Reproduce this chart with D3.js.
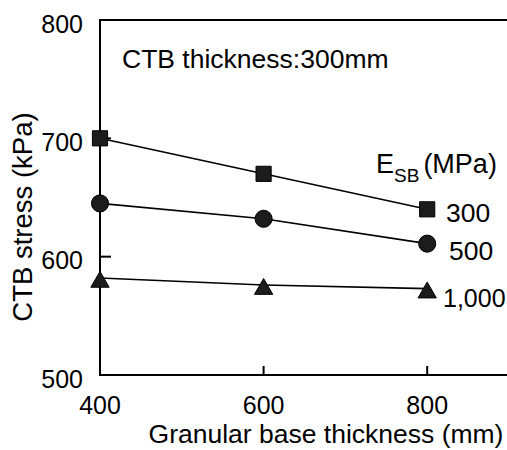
<!DOCTYPE html>
<html>
<head>
<meta charset="utf-8">
<script src="https://cdn.jsdelivr.net/npm/d3@7"></script>
<style>
  body { margin: 0; background: #fff; }
  text { font-family: "Liberation Sans", Arial, sans-serif; fill: #000; }
</style>
</head>
<body>
<div id="chart"></div>
<script>
const thickness = [400, 600, 800];
const stress300 = [700, 670, 640];
const stress500 = [645, 632, 611];
const stress1000 = [582, 576, 573];
const seriesLabels = ["300", "500", "1,000"];
const xTicks = [400, 600, 800];
const yTicks = [500, 600, 700, 800];

const width = 507, height = 450;
const margin = {top: 20, right: 0, bottom: 75, left: 100};

const svg = d3.select("#chart")
    .append("svg")
    .attr("width", width)
    .attr("height", height);

const x = d3.scaleLinear()
    .domain([400, 900])
    .range([margin.left, margin.left + 409]);

const y = d3.scaleLinear()
    .domain([500, 800])
    .range([height - margin.bottom, margin.top]);

// frame: left + top + bottom
svg.append("path")
    .attr("d", `M${x(900)},${y(800)}H${x(400)}V${y(500)}H${x(900)}`)
    .attr("fill", "none")
    .attr("stroke", "#000")
    .attr("stroke-width", 2);

// inward ticks
svg.selectAll(".xt")
    .data(xTicks.slice(1))
    .enter().append("line")
    .attr("x1", d => x(d)).attr("x2", d => x(d))
    .attr("y1", y(500)).attr("y2", y(500) - 9)
    .attr("stroke", "#000").attr("stroke-width", 2);

svg.selectAll(".yt")
    .data(yTicks.slice(1, 3))
    .enter().append("line")
    .attr("x1", x(400)).attr("x2", x(400) + 11)
    .attr("y1", d => y(d)).attr("y2", d => y(d))
    .attr("stroke", "#000").attr("stroke-width", 2);

svg.selectAll(".xl")
    .data(xTicks)
    .enter().append("text")
    .attr("x", d => x(d))
    .attr("y", 413.5)
    .attr("text-anchor", "middle")
    .style("font-size", "25px")
    .text(d => d);

svg.selectAll(".yl")
    .data(yTicks)
    .enter().append("text")
    .attr("x", x(400) - 17)
    .attr("y", d => y(d) + 12.5)
    .attr("text-anchor", "end")
    .style("font-size", "25px")
    .text(d => d);

svg.append("text")
    .attr("x", 326)
    .attr("y", 443)
    .attr("text-anchor", "middle")
    .style("font-size", "26.5px")
    .text("Granular base thickness (mm)");

svg.append("text")
    .attr("transform", "translate(32,217) rotate(-90)")
    .attr("text-anchor", "middle")
    .style("font-size", "27.5px")
    .text("CTB stress (kPa)");

svg.append("text")
    .attr("x", 122)
    .attr("y", 68)
    .style("font-size", "26.5px")
    .text("CTB thickness:300mm");

const line = d3.line()
    .x((d, i) => x(thickness[i]))
    .y(d => y(d));

const series = [
    {values: stress300, symbol: d3.symbolSquare, size: 230, dy: 0},
    {values: stress500, symbol: d3.symbolCircle, size: 230, dy: 0},
    {values: stress1000, symbol: d3.symbolTriangle, size: 145, dy: 4}
];

series.forEach(s => {
    svg.append("path")
        .datum(s.values)
        .attr("d", line)
        .attr("fill", "none")
        .attr("stroke", "#000")
        .attr("stroke-width", 1.6);
    svg.selectAll(null)
        .data(s.values)
        .enter().append("path")
        .attr("transform", (d, i) => `translate(${x(thickness[i])},${y(d) + s.dy})`)
        .attr("d", d3.symbol().type(s.symbol).size(s.size))
        .attr("fill", "#1c1c1c")
        .attr("stroke", "#000")
        .attr("stroke-width", 1);
});

// legend
const leg = svg.append("text")
    .attr("x", 376)
    .attr("y", 173)
    .style("font-size", "27px");
leg.append("tspan").text("E");
leg.append("tspan").attr("dy", 9).style("font-size", "19px").text("SB");
leg.append("tspan").attr("dy", -9).attr("dx", 4).text("(MPa)");

svg.selectAll(".sl")
    .data(seriesLabels)
    .enter().append("text")
    .attr("x", (d, i) => [446, 449, 443][i])
    .attr("y", (d, i) => [222, 260, 307][i])
    .style("font-size", (d, i) => i === 2 ? "25px" : "26.5px")
    .text(d => d);
</script>
</body>
</html>
